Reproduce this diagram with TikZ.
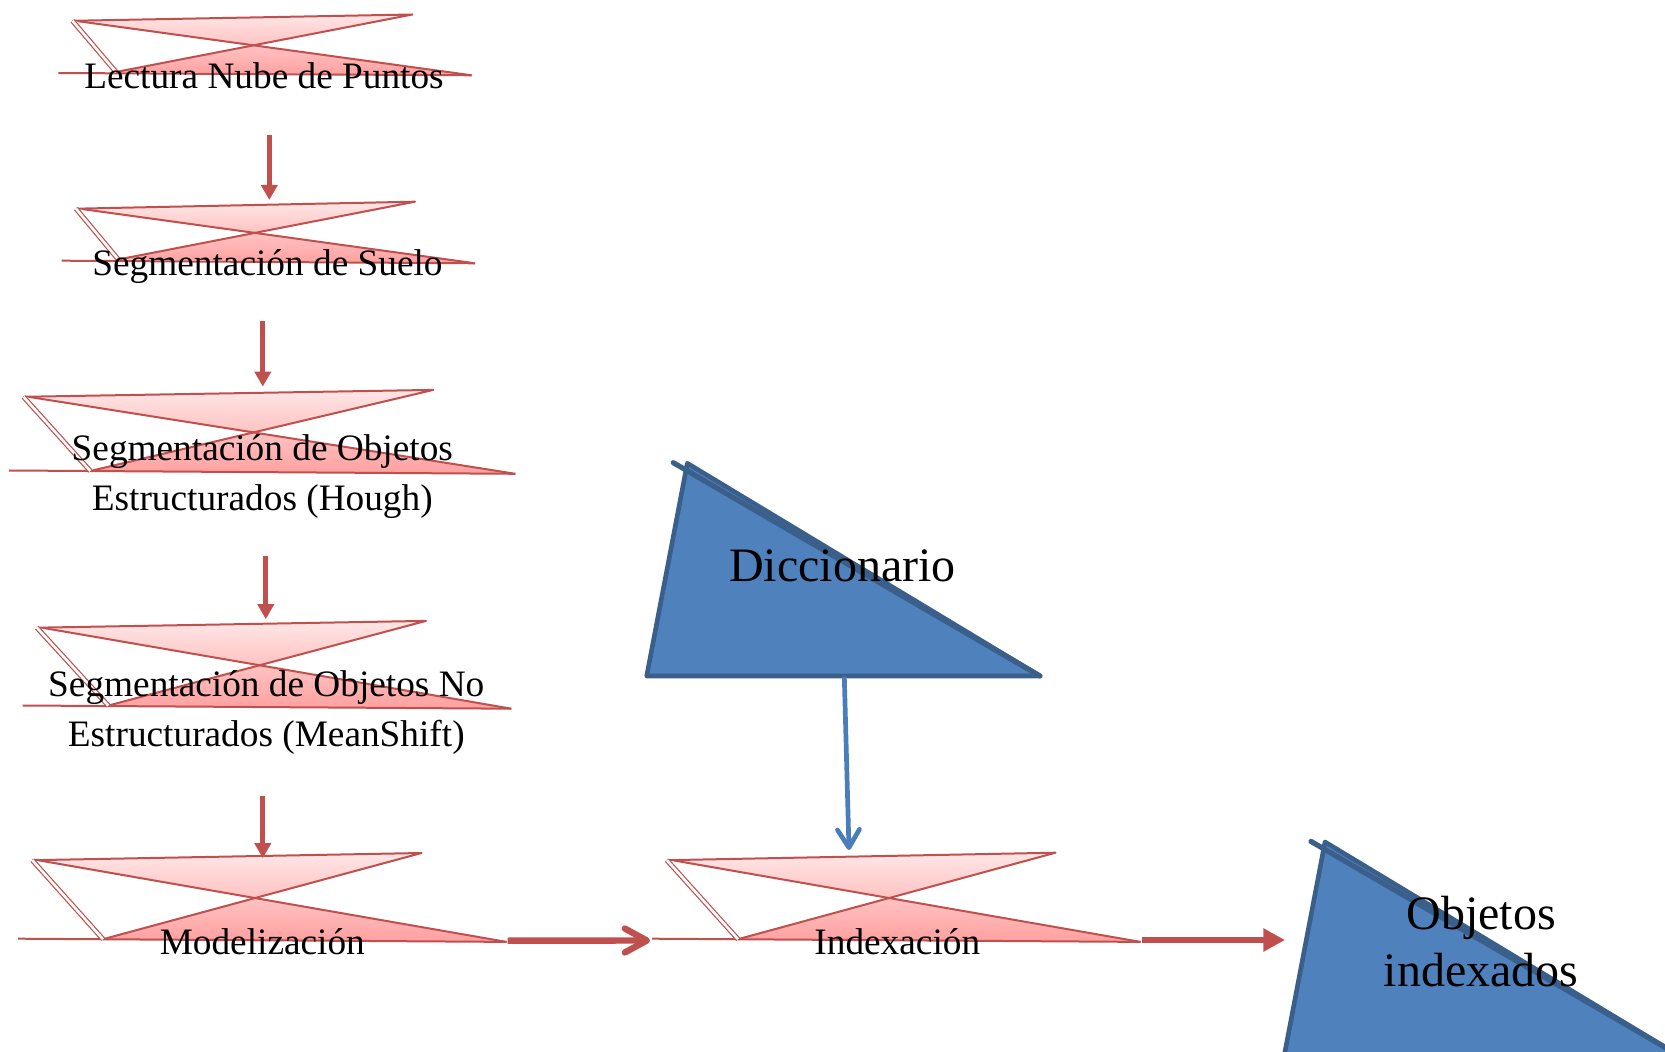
\documentclass[tikz,border=0pt]{standalone}
\usepackage{fontspec}
\setmainfont{Liberation Serif}
\usetikzlibrary{arrows.meta}

\definecolor{accRed}{HTML}{C0504D}
\definecolor{pinkTop}{HTML}{FFE6E6}
\definecolor{pinkBot}{HTML}{FFA0A0}
\definecolor{accBlue}{HTML}{4F81BD}
\definecolor{blueEdge}{HTML}{3A5F8B}
\definecolor{blueArrow}{HTML}{4A7EBB}

\tikzset{
  boxline/.style={draw=accRed, line width=1pt, line join=round},
  slantline/.style={draw=accRed, line width=0.6pt, double=white, double distance=1.3pt},
  redarrow/.style={draw=accRed, line width=2.35pt, -{Triangle[length=7.5pt,width=8pt]}},
  fatarrow/.style={draw=accRed, line width=3.35pt, -{Triangle[length=10.8pt,width=11pt]}},
  barbarrow/.style={draw=accRed, line width=3.2pt, -{Straight Barb[length=11pt,width=12pt,line cap=round,line join=round]}},
  bluearrow/.style={draw=blueArrow, line width=2.35pt, -{Straight Barb[length=9pt,width=11pt,line cap=round,line join=round]}},
  store/.style={fill=accBlue, draw=blueEdge, line width=2.3pt, line join=round},
  storeedge/.style={draw=blueEdge, line width=2.6pt, line cap=round},
  lbl/.style={inner sep=0pt, anchor=base, font=\fontsize{18.65pt}{24.75pt}\selectfont},
  biglbl/.style={inner sep=0pt, anchor=base, font=\fontsize{24pt}{28.5pt}\selectfont},
}

% a process box: shaded bow-tie with its outline strokes
\newcommand\bowbox[1]{%
  \shade[top color=pinkTop, bottom color=pinkBot]
    (#1-A2) -- (#1-B) -- (#1-C) -- (#1-D) -- cycle;
  \draw[boxline] (#1-A) -- (#1-B) -- (#1-C);
  \draw[boxline] (#1-A2) -- (#1-D);
  \draw[boxline] (#1-L) -- (#1-D);
  \draw[slantline] (#1-A) -- (#1-C);
}

\begin{document}
\begin{tikzpicture}[x=0.5pt, y=-0.5pt]
  \useasboundingbox (0,0) rectangle (1665,1052);
  \clip (0,0) rectangle (1665,1052);

  % corner points of the process boxes
  \coordinate (b1-A) at (72.5,20.8);  \coordinate (b1-A2) at (78,21.2);
  \coordinate (b1-B) at (412.5,14.5); \coordinate (b1-C) at (116,72);
  \coordinate (b1-L) at (58.4,73);    \coordinate (b1-D) at (471.6,75.3);

  \coordinate (b2-A) at (76,208.7);   \coordinate (b2-A2) at (81.7,209);
  \coordinate (b2-B) at (415,201.7);  \coordinate (b2-C) at (118.3,259.5);
  \coordinate (b2-L) at (61.7,260.7); \coordinate (b2-D) at (475,263.3);

  \coordinate (b3-A) at (23.5,396.8);  \coordinate (b3-A2) at (29.5,397);
  \coordinate (b3-B) at (433.3,389.9); \coordinate (b3-C) at (90.3,471);
  \coordinate (b3-L) at (8.8,470.5);   \coordinate (b3-D) at (515.3,473.8);

  \coordinate (b4-A) at (36.9,627.7); \coordinate (b4-A2) at (43,627.9);
  \coordinate (b4-B) at (426,620.9);  \coordinate (b4-C) at (108.3,705.6);
  \coordinate (b4-L) at (22.7,705.5); \coordinate (b4-D) at (511.3,708.7);

  \coordinate (b5-A) at (32.3,860.2); \coordinate (b5-A2) at (39,860.4);
  \coordinate (b5-B) at (421.6,853);  \coordinate (b5-C) at (103,939.2);
  \coordinate (b5-L) at (18,938.7);   \coordinate (b5-D) at (506.5,941.9);

  \coordinate (b6-A) at (666.9,860.2); \coordinate (b6-A2) at (673.5,860.4);
  \coordinate (b6-B) at (1055.5,852.7);\coordinate (b6-C) at (738,939.2);
  \coordinate (b6-L) at (652,938.7);   \coordinate (b6-D) at (1140.5,941.9);

  \foreach \b in {b1,b2,b3,b4,b5,b6} {\bowbox{\b}}

  % data stores
  \coordinate (dic-T) at (687.3,463.3); \coordinate (dic-S) at (673.3,462.7);
  \coordinate (dic-L) at (646.7,676);   \coordinate (dic-R) at (1040,676);
  \filldraw[store] (dic-T) -- (dic-R) -- (dic-L) -- cycle;
  \draw[storeedge] (dic-S) -- (dic-R);

  \coordinate (obj-T) at (1325,842);     \coordinate (obj-S) at (1311,841.4);
  \coordinate (obj-L) at (1284.4,1054.7); \coordinate (obj-R) at (1677.7,1054.7);
  \filldraw[store] (obj-T) -- (obj-R) -- (obj-L) -- cycle;
  \draw[storeedge] (obj-S) -- (obj-R);

  % labels
  \node[lbl] (t1) at (264,89) {Lectura Nube de Puntos};
  \node[lbl] (t2) at (267.5,276) {Segmentación de Suelo};
  \node[lbl] (t3) at (262.3,461)
    {\begin{tabular}[t]{@{}c@{}}Segmentación de Objetos\\Estructurados (Hough)\end{tabular}};
  \node[lbl] (t4) at (266.3,697)
    {\begin{tabular}[t]{@{}c@{}}Segmentación de Objetos No\\Estructurados (MeanShift)\end{tabular}};
  \node[lbl] (t5) at (262.3,954.5) {Modelización};
  \node[lbl] (t6) at (897.3,954.5) {Indexación};
  \node[biglbl] (dic) at (842.5,582) {Diccionario};
  \node[biglbl] (obj) at (1481,929.5)
    {\begin{tabular}[t]{@{}c@{}}Objetos\\indexados\end{tabular}};

  % connectors
  \coordinate (v1s) at (269.3,135);   \coordinate (v1e) at (269.3,200);
  \coordinate (v2s) at (262.8,321);   \coordinate (v2e) at (262.8,386.6);
  \coordinate (v3s) at (265.8,556);   \coordinate (v3e) at (265.8,619.2);
  \coordinate (v4s) at (262.8,795.5); \coordinate (v4e) at (262.8,858.2);
  \draw[redarrow] (v1s) -- (v1e);
  \draw[redarrow] (v2s) -- (v2e);
  \draw[redarrow] (v3s) -- (v3e);
  \draw[redarrow] (v4s) -- (v4e);

  \coordinate (h1e) at (650,940.5);
  \draw[barbarrow] (b5-D) ++(1,-1.2) coordinate (h1s) (h1s) -- (h1e);
  \coordinate (h2s) at (1141.7,940); \coordinate (h2e) at (1285,940);
  \draw[fatarrow] (h2s) -- (h2e);

  \coordinate (d1s) at (844.3,676.7); \coordinate (d1e) at (849,850);
  \draw[bluearrow] (d1s) -- (d1e);
\end{tikzpicture}
\end{document}
